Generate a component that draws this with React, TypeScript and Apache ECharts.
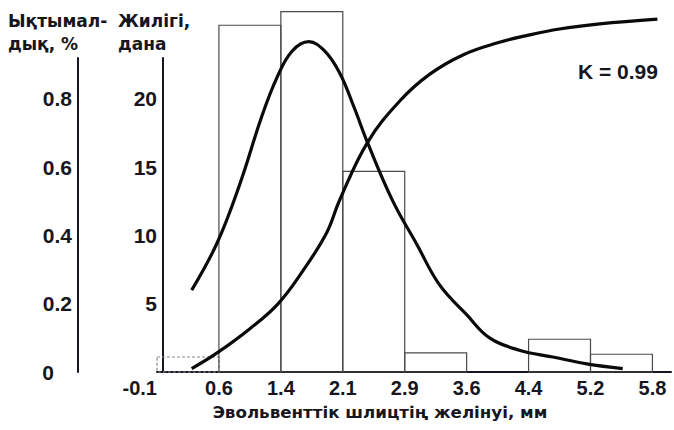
import React, { useEffect, useRef } from "react";
import * as echarts from "echarts";

// Bin edges (x axis tick labels, mm) — bins are drawn at equal width, edge i at position i
const binEdgeLabels = ["-0.1", "0.6", "1.4", "2.1", "2.9", "3.6", "4.4", "5.2", "5.8"];
// Frequency of each bin (Жилігі, дана)
const binFreq = [1.1, 25.4, 26.4, 14.7, 1.4, 0, 2.4, 1.3];

// Theoretical density curve (in bin-position units, frequency)
const densityX = [0.56, 0.97, 1.34, 1.69, 1.94, 2.18, 2.45, 2.71, 2.95, 3.19, 3.4, 3.81, 4.19, 4.56, 5.0, 5.37, 5.85, 6.39, 6.94, 7.52];
const densityY = [6.0, 9.45, 13.8, 18.7, 21.6, 23.5, 24.2, 23.5, 21.9, 19.3, 16.8, 12.5, 9.4, 6.4, 4.2, 2.5, 1.6, 1.1, 0.6, 0.25];

// Cumulative probability curve (bin-position units, probability)
const cumX = [0.56, 0.97, 1.5, 1.95, 2.35, 2.74, 2.95, 3.4, 3.92, 4.4, 4.94, 5.53, 5.95, 6.5, 7.15, 8.08];
const cumY = [0.01, 0.056, 0.127, 0.199, 0.295, 0.408, 0.504, 0.673, 0.794, 0.872, 0.929, 0.966, 0.985, 1.005, 1.02, 1.034];

// Axis tick labels
const freqTicks = [5, 10, 15, 20];
const probTicks = [0, 0.2, 0.4, 0.6, 0.8];

const FONT = "Liberation Sans";
const TITLE_FONT = "DejaVu Sans";
const INK = "#161620";

export default function App() {
  const ref = useRef<HTMLDivElement>(null);
  useEffect(() => {
    document.body.style.margin = "0";
    const chart = echarts.init(ref.current!, null, { renderer: "svg" });
    const yLabelStyle = { color: INK, fontFamily: FONT, fontWeight: "bold" as const, fontSize: 21 };
    const xLabelStyle = { color: INK, fontFamily: FONT, fontWeight: "bold" as const, fontSize: 20 };
    const option: any = {
      animation: false,
      backgroundColor: "#ffffff",
      grid: [
        { left: 157, width: 515, top: 0, bottom: 58 },
        { left: 163, width: 10, top: 58, bottom: 58 },
      ],
      xAxis: [
        {
          gridIndex: 0,
          type: "value",
          min: 0,
          max: 8.3,
          interval: 1,
          axisLine: { show: true, onZero: false, lineStyle: { color: INK, width: 2 } },
          axisTick: { show: false },
          splitLine: { show: false },
          axisLabel: {
            ...xLabelStyle,
            margin: 6,
            alignMinLabel: "right",
            formatter: (v: number) => {
              const i = Math.round(v);
              return Math.abs(v - i) < 1e-6 && i >= 0 && i < binEdgeLabels.length ? binEdgeLabels[i] : "";
            },
          },
        },
        { gridIndex: 1, type: "value", min: 0, max: 1, show: false },
      ],
      yAxis: [
        { gridIndex: 0, type: "value", min: 0, max: 27.25, show: false },
        { gridIndex: 0, type: "value", min: 0, max: 1.09, show: false },
        {
          gridIndex: 1,
          type: "value",
          min: 0,
          max: 23,
          interval: 5,
          position: "left",
          axisLine: { show: true, lineStyle: { color: INK, width: 2 } },
          axisTick: { show: false },
          splitLine: { show: false },
          axisLabel: {
            ...yLabelStyle,
            margin: 6,
            formatter: (v: number) => (freqTicks.some((t) => Math.abs(t - v) < 1e-6) ? String(Math.round(v)) : ""),
          },
        },
        {
          gridIndex: 1,
          type: "value",
          min: 0,
          max: 0.92,
          interval: 0.2,
          position: "left",
          offset: 85,
          axisLine: { show: true, lineStyle: { color: INK, width: 2 } },
          axisTick: { show: false },
          splitLine: { show: false },
          axisLabel: {
            ...yLabelStyle,
            margin: 6,
            formatter: (v: number) => {
              const t = probTicks.find((p) => Math.abs(p - v) < 1e-6);
              if (t === undefined) return "";
              return t === 0 ? "{z|0}" : t.toFixed(1);
            },
            rich: { z: { ...yLabelStyle, padding: [0, 18, 0, 0] } },
          },
        },
      ],
      series: [
        {
          type: "custom",
          xAxisIndex: 0,
          yAxisIndex: 0,
          z: 1,
          data: binFreq.map((v, i) => [i, v]),
          renderItem: (params: any, api: any) => {
            const i = api.value(0);
            const v = api.value(1);
            if (v <= 0) return null;
            const p0 = api.coord([i, v]);
            const p1 = api.coord([i + 1, 0]);
            return {
              type: "rect",
              shape: { x: p0[0], y: p0[1], width: p1[0] - p0[0], height: p1[1] - p0[1] },
              style: {
                fill: "none",
                stroke: i === 0 ? "#8a8a8a" : "#4a4a4a",
                lineWidth: 1.2,
                lineDash: i === 0 ? [3, 2] : null,
              },
            };
          },
        },
        {
          type: "line",
          xAxisIndex: 0,
          yAxisIndex: 0,
          z: 3,
          smooth: 0.4,
          showSymbol: false,
          symbol: "none",
          lineStyle: { color: "#0a0a0a", width: 3.2 },
          data: densityX.map((x, i) => [x, densityY[i]]),
        },
        {
          type: "line",
          xAxisIndex: 0,
          yAxisIndex: 1,
          z: 3,
          smooth: 0.4,
          showSymbol: false,
          symbol: "none",
          lineStyle: { color: "#0a0a0a", width: 3.2 },
          data: cumX.map((x, i) => [x, cumY[i]]),
        },
      ],
      graphic: [
        {
          type: "text",
          left: 8,
          top: 9,
          style: { text: "Ықтымал-\nдық, %", fill: INK, font: `bold 17px "${TITLE_FONT}"`, lineHeight: 23 },
        },
        {
          type: "text",
          left: 118,
          top: 9,
          style: { text: "Жилігі,\nдана", fill: INK, font: `bold 17px "${TITLE_FONT}"`, lineHeight: 23 },
        },
        {
          type: "text",
          x: 380,
          y: 412,
          style: {
            text: "Эвольвенттік шлицтің желінуі, мм",
            fill: INK,
            font: `bold 16.7px "${TITLE_FONT}"`,
            align: "center",
            verticalAlign: "middle",
          },
        },
        {
          type: "text",
          x: 578,
          y: 71,
          style: { text: "K = 0.99", fill: INK, font: `bold 21px "${FONT}"`, verticalAlign: "middle" },
        },
      ],
    };
    chart.setOption(option);
    return () => chart.dispose();
  }, []);
  return <div ref={ref} style={{ width: 674, height: 430 }} />;
}
